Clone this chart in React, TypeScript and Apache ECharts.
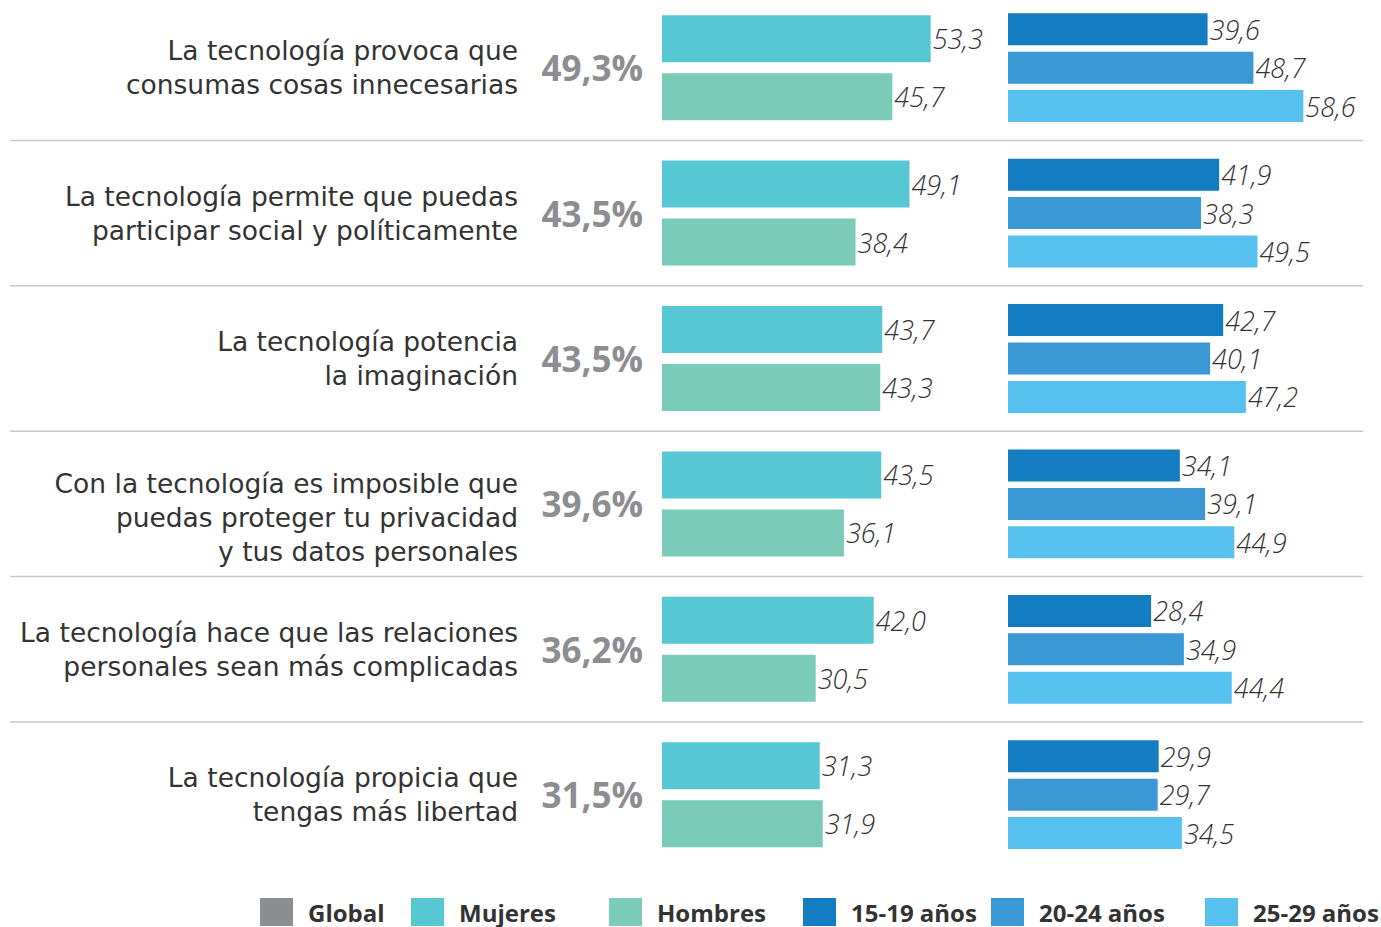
import React, { useEffect, useRef } from "react";
import * as echarts from "echarts";

const statements = [
  "La tecnología provoca que\nconsumas cosas innecesarias",
  "La tecnología permite que puedas\nparticipar social y políticamente",
  "La tecnología potencia\nla imaginación",
  "Con la tecnología es imposible que\npuedas proteger tu privacidad\ny tus datos personales",
  "La tecnología hace que las relaciones\npersonales sean más complicadas",
  "La tecnología propicia que\ntengas más libertad",
];
const globalVals = [49.3, 43.5, 43.5, 39.6, 36.2, 31.5];
const mujeres = [53.3, 49.1, 43.7, 43.5, 42.0, 31.3];
const hombres = [45.7, 38.4, 43.3, 36.1, 30.5, 31.9];
const age1519 = [39.6, 41.9, 42.7, 34.1, 28.4, 29.9];
const age2024 = [48.7, 38.3, 40.1, 39.1, 34.9, 29.7];
const age2529 = [58.6, 49.5, 47.2, 44.9, 44.4, 34.5];
const legendNames = ["Global", "Mujeres", "Hombres", "15-19 años", "20-24 años", "25-29 años"];

const COLORS: Record<string, string> = {
  Global: "#8d8e92",
  Mujeres: "#57c7d4",
  Hombres: "#7acbb8",
  "15-19 años": "#147dc2",
  "20-24 años": "#3a98d5",
  "25-29 años": "#56c1ef",
};
const LEGEND_LEFT = [260, 411, 609, 803, 991, 1205];

const FONT = "'Open Sans', 'Noto Sans', sans-serif";
const STMT_FONT = "'DejaVu Sans', sans-serif";
const SHIFT = 5; // chart div is raised by this many px
const GRID_TOP = 0;
const BAND = 145.4;
const N = statements.length;

const fmt = (v: number) => v.toFixed(1).replace(".", ",");

export default function App() {
  const ref = useRef<HTMLDivElement>(null);
  useEffect(() => {
    if (!ref.current) return;
    const chart = echarts.init(ref.current, null, { renderer: "svg" });
    const valueLabel = {
      show: true,
      position: "right" as const,
      distance: 2,
      formatter: (p: any) => fmt(p.value),
      fontFamily: FONT,
      fontStyle: "italic" as const,
      fontWeight: 300 as any,
      fontSize: 27,
      color: "#333",
    };
    const yCat = (gridIndex: number, showLabels: boolean) => ({
      type: "category" as const,
      gridIndex,
      inverse: true,
      data: statements,
      axisLine: { show: false },
      axisTick: { show: false },
      splitLine: { show: false },
      axisLabel: {
        show: showLabels,
        margin: 144,
        align: "right" as const,
        formatter: (val: string, idx: number) => {
          const lines = val.split("\n").map((l) => "{t|" + l + "}");
          if (idx === 3) return "{gap|}\n" + lines.join("\n");
          return lines.join("\n");
        },
        rich: {
          t: {
            fontFamily: STMT_FONT,
            fontSize: 26.5,
            lineHeight: 34,
            color: "#333",
            align: "right",
          },
          gap: { fontSize: 1, lineHeight: 28 },
        },
      },
    });
    const xVal = (gridIndex: number) => ({
      type: "value" as const,
      gridIndex,
      min: 0,
      max: 60,
      show: false,
    });
    const sepLines = [];
    for (let i = 1; i < N; i++) {
      const y = GRID_TOP + BAND * i;
      sepLines.push({
        type: "line",
        shape: { x1: 10, y1: y, x2: 1363, y2: y },
        style: { stroke: "#c9c9c9", lineWidth: 1.5 },
        silent: true,
      });
    }
    const option: any = {
      animation: false,
      backgroundColor: "#ffffff",
      grid: [
        { left: 662, top: GRID_TOP, width: 302.4, height: BAND * N },
        { left: 1008, top: GRID_TOP, width: 302.4, height: BAND * N },
      ],
      xAxis: [xVal(0), xVal(1)],
      yAxis: [yCat(0, true), yCat(1, false)],
      legend: legendNames.map((name, i) => ({
        data: [{ name, itemStyle: { color: COLORS[name], opacity: 1 } }],
        left: LEGEND_LEFT[i],
        top: 898 + SHIFT,
        padding: 0,
        icon: "rect",
        itemWidth: 33,
        itemHeight: 28,
        selectedMode: false,
        textStyle: {
          fontFamily: FONT,
          fontWeight: "bold",
          fontSize: 24,
          lineHeight: 26,
          color: "#333",
          padding: [0, 0, 0, 10],
        },
      })),
      graphic: sepLines,
      series: [
        {
          name: "Global",
          type: "custom",
          xAxisIndex: 0,
          yAxisIndex: 0,
          itemStyle: { color: COLORS.Global },
          data: globalVals.map((v, i) => [v, i]),
          encode: { x: 0, y: 1 },
          renderItem: (params: any, api: any) => {
            const cs = params.coordSys;
            const y = api.coord([0, api.value(1)])[1];
            return {
              type: "text",
              x: cs.x - 19,
              y,
              style: {
                text: fmt(api.value(0)) + "%",
                textAlign: "right",
                textVerticalAlign: "middle",
                fill: COLORS.Global,
                fontFamily: FONT,
                fontWeight: "bold",
                fontSize: 35,
              },
            };
          },
        },
        {
          name: "Mujeres",
          type: "bar",
          xAxisIndex: 0,
          yAxisIndex: 0,
          data: mujeres,
          barWidth: 47,
          barGap: "23.4%",
          itemStyle: { color: COLORS.Mujeres },
          label: valueLabel,
        },
        {
          name: "Hombres",
          type: "bar",
          xAxisIndex: 0,
          yAxisIndex: 0,
          data: hombres,
          barWidth: 47,
          barGap: "23.4%",
          itemStyle: { color: COLORS.Hombres },
          label: valueLabel,
        },
        {
          name: "15-19 años",
          type: "bar",
          xAxisIndex: 1,
          yAxisIndex: 1,
          data: age1519,
          barWidth: 32,
          barGap: "20%",
          itemStyle: { color: COLORS["15-19 años"] },
          label: valueLabel,
        },
        {
          name: "20-24 años",
          type: "bar",
          xAxisIndex: 1,
          yAxisIndex: 1,
          data: age2024,
          barWidth: 32,
          barGap: "20%",
          itemStyle: { color: COLORS["20-24 años"] },
          label: valueLabel,
        },
        {
          name: "25-29 años",
          type: "bar",
          xAxisIndex: 1,
          yAxisIndex: 1,
          data: age2529,
          barWidth: 32,
          barGap: "20%",
          itemStyle: { color: COLORS["25-29 años"] },
          label: valueLabel,
        },
      ],
    };
    chart.setOption(option);
    return () => chart.dispose();
  }, []);
  return (
    <div
      ref={ref}
      style={{ position: "fixed", left: 0, top: -SHIFT, width: 1381, height: 927 + SHIFT }}
    />
  );
}
